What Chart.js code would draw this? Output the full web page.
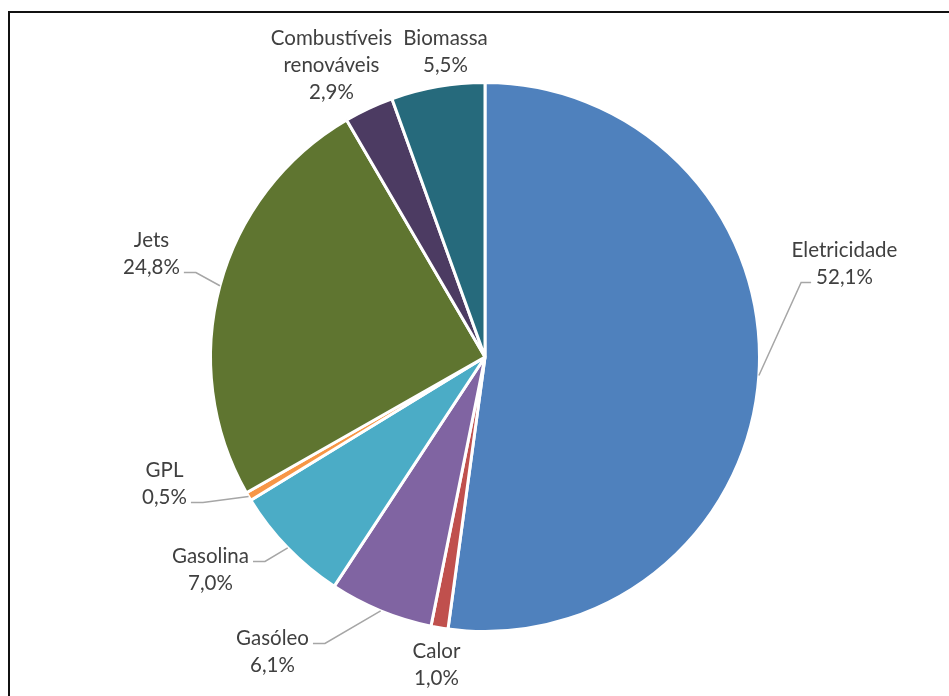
<!DOCTYPE html>
<html>
<head>
<meta charset="utf-8">
<script src="https://cdn.jsdelivr.net/npm/chart.js@4/dist/chart.umd.min.js"></script>
<style>
  html, body { margin: 0; padding: 0; background: #fff; overflow: hidden; }
  #wrap { position: relative; width: 949px; height: 696px; }
  #frame {
    position: absolute; left: 8px; top: 11px; width: 2000px; height: 2000px;
    border-left: 2px solid #111; border-top: 2px solid #111; box-sizing: border-box;
  }
  canvas { position: absolute; left: 0; top: 0; }
</style>
</head>
<body>
<div id="wrap">
  <div id="frame"></div>
  <canvas id="c" width="949" height="696"></canvas>
</div>
<script>
// Energy consumption shares by source (%)
const categories = ['Eletricidade', 'Calor', 'Gasóleo', 'Gasolina', 'GPL', 'Jets', 'Combustíveis renováveis', 'Biomassa'];
const shares = [52.1, 1.0, 6.1, 7.0, 0.5, 24.8, 2.9, 5.5];
const labelLines = [['Eletricidade'], ['Calor'], ['Gasóleo'], ['Gasolina'], ['GPL'], ['Jets'], ['Combustíveis', 'renováveis'], ['Biomassa']];
const sliceColors = ['#4F81BD', '#C0504D', '#8064A2', '#4BACC6', '#F79646', '#5F7530', '#4C3B62', '#266A7C'];

// Label placement relative to the pie centre: text centre x, first baseline y,
// and which text line the leader line attaches to (null = no leader)
const labelLayout = [
  { dx: 359.5, dy: -100.5, leader: 1, side: 'left' },
  { dx: -48.5, dy: 300.5, leader: null },
  { dx: -212.5, dy: 287.5, leader: 0, side: 'right' },
  { dx: -274.5, dy: 205.5, leader: 0, side: 'right' },
  { dx: -320.5, dy: 119.5, leader: 1, side: 'right' },
  { dx: -333.5, dy: -110.5, leader: 1, side: 'right' },
  { dx: -153.5, dy: -312.5, leader: null },
  { dx: -39.5, dy: -312.5, leader: null }
];

const fmt = v => v.toFixed(1).replace('.', ',') + '%';

const pieLabels = {
  id: 'pieLabels',
  afterDatasetsDraw(chart) {
    const ctx = chart.ctx;
    const meta = chart.getDatasetMeta(0);
    ctx.save();
    ctx.font = '20.5px Lato';
    ctx.fillStyle = '#404040';
    ctx.textAlign = 'center';
    ctx.textBaseline = 'alphabetic';
    const lineH = 27;
    meta.data.forEach((arc, i) => {
      const lay = labelLayout[i];
      const lines = labelLines[i].concat([fmt(shares[i])]);
      const tx = arc.x + lay.dx;
      const ty = arc.y + lay.dy;
      lines.forEach((t, k) => ctx.fillText(t, tx, ty + k * lineH));
      if (lay.leader !== null) {
        const mid = (arc.startAngle + arc.endAngle) / 2;
        const px = arc.x + Math.cos(mid) * arc.outerRadius;
        const py = arc.y + Math.sin(mid) * arc.outerRadius;
        const w = ctx.measureText(lines[lay.leader]).width;
        const ly = ty + lay.leader * lineH - 1;
        let x0, x1;
        if (lay.side === 'right') { x0 = tx + w / 2 + 4; x1 = x0 + 12; }
        else { x0 = tx - w / 2 - 5; x1 = x0 - 10; }
        ctx.beginPath();
        ctx.strokeStyle = '#A6A6A6';
        ctx.lineWidth = 1.5;
        ctx.moveTo(x0, ly);
        ctx.lineTo(x1, ly);
        ctx.lineTo(px, py);
        ctx.stroke();
      }
    });
    ctx.restore();
  }
};

new Chart(document.getElementById('c'), {
  type: 'pie',
  data: {
    labels: categories,
    datasets: [{
      data: shares,
      backgroundColor: sliceColors,
      borderColor: '#ffffff',
      borderWidth: 3
    }]
  },
  options: {
    responsive: false,
    animation: false,
    layout: { padding: { left: 209, right: 188, top: 81, bottom: 63 } },
    plugins: { legend: { display: false }, tooltip: { enabled: false } }
  },
  plugins: [pieLabels]
});
</script>
</body>
</html>
